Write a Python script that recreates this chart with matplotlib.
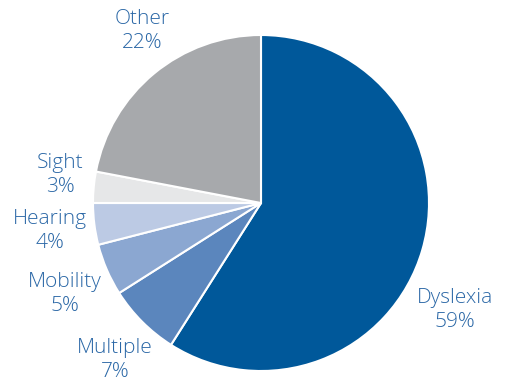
import matplotlib.pyplot as plt

labels = ["Dyslexia", "Multiple", "Mobility", "Hearing", "Sight", "Other"]
shares = [59, 7, 5, 4, 3, 22]
colors = ["#00589a", "#5b86bd", "#8ba7d1", "#bccae4", "#e6e7e8", "#a7a9ac"]

# label anchor points (pixel space, y measured from top)
label_pos = {
    "Dyslexia": (455, 310),
    "Multiple": (115, 360),
    "Mobility": (65, 294),
    "Hearing": (50, 231),
    "Sight": (60, 175),
    "Other": (142, 31),
}

W, H = 505, 381
fig = plt.figure(figsize=(W / 100, H / 100), dpi=100)
ax = fig.add_axes([0, 0, 1, 1])
ax.set_xlim(0, W)
ax.set_ylim(0, H)
ax.axis("off")

ax.pie(shares, colors=colors, startangle=90, counterclock=False,
       center=(261, H - 203), radius=168,
       wedgeprops=dict(edgecolor="white", linewidth=1.5))
ax.set_xlim(0, W)
ax.set_ylim(0, H)
ax.set_aspect("equal")

for name, val in zip(labels, shares):
    x, y = label_pos[name]
    ax.text(x, H - y, f"{name}\n{val}%", ha="center", va="center",
            fontsize=15, color="#2a67a6", family="Open Sans",
            fontweight="light", linespacing=1.25)

fig.savefig("out.png", dpi=100)
